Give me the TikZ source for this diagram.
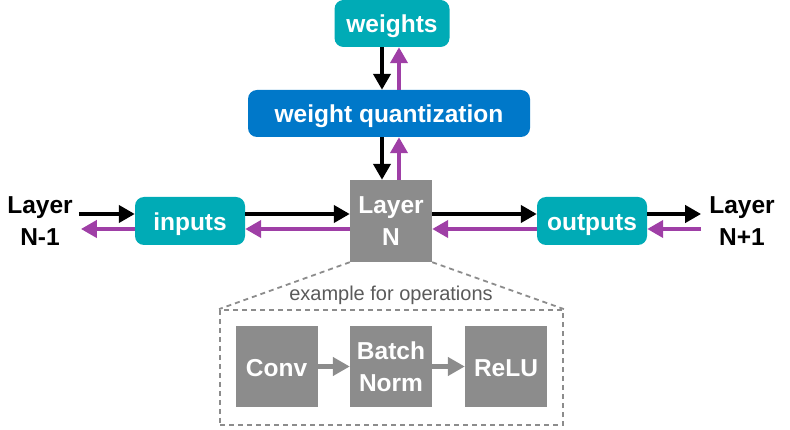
\documentclass[tikz,border=0pt]{standalone}
\usepackage{fontspec}
\setmainfont{Liberation Sans}
\usetikzlibrary{arrows.meta}
\definecolor{tealq}{HTML}{00ABB6}
\definecolor{blueq}{HTML}{0078C9}
\definecolor{purpq}{HTML}{9F3FA6}
\definecolor{grayq}{HTML}{8C8C8C}
\definecolor{textq}{HTML}{5A5A5A}
\begin{document}
\begin{tikzpicture}[x=1pt,y=-1pt,
    bigfont/.style={font=\fontsize{24.5}{32}\selectfont\bfseries},
    oneline/.style={text height=19pt, text depth=0pt},
    tealbox/.style={fill=tealq, text=white, rounded corners=9pt, bigfont, inner sep=0pt, oneline},
    graybox/.style={fill=grayq, text=white, bigfont, inner sep=0pt, align=center,
        minimum width=82pt, minimum height=81pt},
    fwd/.style={line width=4.5pt, -{Triangle[length=16pt,width=17pt]}},
    bwd/.style={line width=4.5pt, purpq, -{Triangle[length=16pt,width=17pt]}},
    opsarrow/.style={line width=5pt, grayq, -{Triangle[length=17pt,width=18pt]}},
    dashq/.style={grayq, line width=1.8pt, dash pattern=on 5pt off 4pt}]
    \useasboundingbox (0,0) rectangle (790,430);
    % top: weights and quantization
    \node[tealbox, minimum width=115pt, minimum height=47pt] (weights) at (392,23.5) {weights};
    \node[tealbox, fill=blueq, minimum width=282pt, minimum height=47pt] (wq) at (389,113.5) {weight quantization};
    % middle row, centre line y = 221
    \node[graybox, minimum height=82pt] (layern) at (391,221) {Layer\\N};
    \node[tealbox, minimum width=110pt, minimum height=48pt] (inputs) at (190,221) {inputs};
    \node[tealbox, minimum width=110pt, minimum height=48pt] (outputs) at (592,221) {outputs};
    \node[bigfont, align=center, inner sep=0pt] (lprev) at (40,221) {Layer\\N-1};
    \node[bigfont, align=center, inner sep=0pt] (lnext) at (742,221) {Layer\\N+1};
    % forward (black) and backward (purple) arrows
    \draw[fwd] ([xshift=-10pt]weights.south) -- ([xshift=-10pt]weights.south |- wq.north);
    \draw[bwd] ([xshift=7pt]weights.south |- wq.north) -- ([xshift=7pt]weights.south);
    \draw[fwd] ([xshift=-9pt]layern.north |- wq.south) -- ([xshift=-9pt]layern.north);
    \draw[bwd] ([xshift=8pt]layern.north) -- ([xshift=8pt]layern.north |- wq.south);
    \draw[fwd] ([xshift=6pt,yshift=7pt]lprev.east) -- ([yshift=7pt]lprev.east -| inputs.west);
    \draw[bwd] ([yshift=-8pt]inputs.west) -- ([xshift=8pt,yshift=-8pt]lprev.east);
    \draw[fwd] ([yshift=7pt]inputs.east) -- ([yshift=7pt]inputs.east -| layern.west);
    \draw[bwd] ([yshift=-8pt]layern.west) -- ([yshift=-8pt]layern.west -| inputs.east);
    \draw[fwd] ([yshift=7pt]layern.east) -- ([yshift=7pt]layern.east -| outputs.west);
    \draw[bwd] ([yshift=-8pt]outputs.west) -- ([yshift=-8pt]outputs.west -| layern.east);
    \draw[fwd] ([yshift=7pt]outputs.east) -- ([xshift=-8pt,yshift=7pt]lnext.west);
    \draw[bwd] ([xshift=-8pt,yshift=-8pt]lnext.west) -- ([yshift=-8pt]outputs.east);
    % zoom into the operations of layer N
    \node[dashq, draw, minimum width=343pt, minimum height=115pt, inner sep=0pt] (ops) at (391.5,367.5) {};
    \draw[dashq] (layern.south west) -- (ops.north west);
    \draw[dashq] (layern.south east) -- (ops.north east);
    \node[text=textq, font=\fontsize{20}{24}\selectfont, inner sep=0pt] (opslabel) at (391,295) {example for operations};
    \node[graybox, oneline] (conv) at (276.5,366.5) {Conv};
    \node[graybox] (bn) at (391,366.5) {Batch\\Norm};
    \node[graybox, oneline] (relu) at (506,366.5) {ReLU};
    \draw[opsarrow] (conv) -- (bn);
    \draw[opsarrow] (bn) -- (relu);
\end{tikzpicture}
\end{document}
